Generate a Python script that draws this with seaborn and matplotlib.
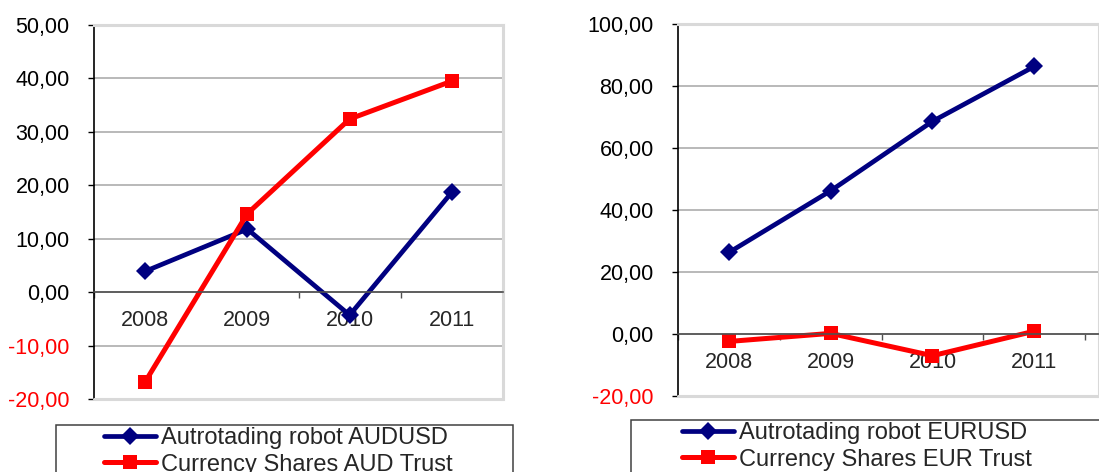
import numpy as np
import pandas as pd
import matplotlib
matplotlib.use("Agg")
import matplotlib.pyplot as plt
from matplotlib.patches import Rectangle
from matplotlib.ticker import FixedLocator, FuncFormatter
import seaborn as sns

years = [2008, 2009, 2010, 2011]

# left chart: AUD
robot_aud = [3.9, 11.8, -4.3, 18.7]
trust_aud = [-16.8, 14.7, 32.4, 39.5]
# right chart: EUR
robot_eur = [26.3, 46.2, 68.6, 86.3]
trust_eur = [-2.4, 0.2, -7.0, 0.9]

labels_aud = ["Autrotading robot AUDUSD", "Currency Shares AUD Trust"]
labels_eur = ["Autrotading robot EURUSD", "Currency Shares EUR Trust"]

sns.set_style("white")
plt.rcParams['font.family'] = ['Liberation Sans', 'DejaVu Sans']

NAVY = "#000080"
RED = "#FF0000"
W, H = 1099, 472

fig = plt.figure(figsize=(W / 100, H / 100), dpi=100)


def px_ax(l, t, r, b):
    return fig.add_axes([l / W, 1 - b / H, (r - l) / W, (b - t) / H])


def comma(v, pos):
    return f"{v:.2f}".replace(".", ",")


def draw(ax, robot, trust, labels, yticks, xmax):
    df = pd.DataFrame({"year": years, "robot": robot, "trust": trust})
    sns.lineplot(data=df, x="year", y="robot", ax=ax, color=NAVY, lw=3.4,
                 marker="D", markersize=9.5, markeredgewidth=0, label=labels[0],
                 legend=False)
    sns.lineplot(data=df, x="year", y="trust", ax=ax, color=RED, lw=3.6,
                 marker="s", markersize=10.5, markeredgewidth=0, label=labels[1],
                 legend=False)
    ax.set_xlim(2007.5, xmax)
    ax.set_ylim(yticks[0], yticks[-1])
    ax.set_xlabel("")
    ax.set_ylabel("")
    ax.yaxis.set_major_locator(FixedLocator(yticks))
    ax.yaxis.set_major_formatter(FuncFormatter(comma))
    ax.xaxis.set_major_locator(FixedLocator(years))
    ax.xaxis.set_minor_locator(FixedLocator([2007.5, 2008.5, 2009.5, 2010.5, 2011.5]))
    ax.set_xticklabels([str(y) for y in years])
    ax.tick_params(axis="y", which="major", length=4.5, width=1, color="black",
                   direction="out", pad=13, labelsize=15.5, left=True)
    ax.tick_params(axis="x", which="major", length=0, pad=13, labelsize=15.5)
    ax.tick_params(axis="x", which="minor", length=4, width=1, color="#505050",
                   direction="out", bottom=True)
    for lab, v in zip(ax.get_yticklabels(), yticks):
        lab.set_color(RED if v < 0 else "black")
    ax.grid(axis="y", color="#a6a6a6", lw=1.1)
    ax.grid(axis="x", visible=False)
    ax.set_axisbelow(True)
    ax.spines["bottom"].set_position(("data", 0))
    ax.spines["bottom"].set_color("#505050")
    ax.spines["bottom"].set_linewidth(1.2)
    ax.spines["left"].set_color("black")
    ax.spines["left"].set_linewidth(1.2)
    for s in ["top", "right"]:
        ax.spines[s].set_color("#d9d9d9")
        ax.spines[s].set_linewidth(2.2)
    ax.axhline(yticks[0], color="#d9d9d9", lw=2.2, zorder=2.6, clip_on=False)
    ax.set_facecolor("white")


ax1 = px_ax(94, 25, 503, 399)
draw(ax1, robot_aud, trust_aud, labels_aud, list(range(-20, 51, 10)), 2011.5)

ax2 = px_ax(678, 24, 1099, 396)
draw(ax2, robot_eur, trust_eur, labels_eur, list(range(-20, 101, 20)), 2011.636)


def box_legend(ax, bx0, bx1, btop, hx, hy):
    fig.patches.append(Rectangle((bx0 / W, -0.1), (bx1 - bx0) / W, 1 - btop / H + 0.1,
                                 transform=fig.transFigure, fill=False,
                                 edgecolor="#404040", lw=1.1))
    h, l = ax.get_legend_handles_labels()
    fig.legend(h, l, loc="upper left", bbox_to_anchor=(hx / W, 1 - hy / H),
               frameon=False, fontsize=17, handlelength=2.2, handletextpad=0.2,
               labelspacing=0.2, borderpad=0, borderaxespad=0)


box_legend(ax1, 56, 513, 425, 104, 427)
box_legend(ax2, 631, 1110, 420, 682, 422)

fig.savefig("out.png", dpi=100, facecolor="white")
